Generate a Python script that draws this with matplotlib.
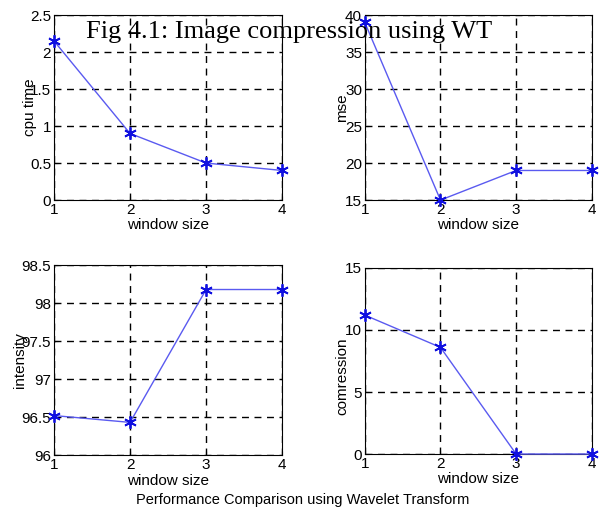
import matplotlib.pyplot as plt

# window sizes and the four measured quantities
window = [1, 2, 3, 4]
cpu_time = [2.15, 0.9, 0.5, 0.4]
mse = [39.0, 15.0, 19.0, 19.0]
intensity = [96.52, 96.43, 98.18, 98.18]
compression = [11.2, 8.6, 0.0, 0.0]

cpu_ticks = [0, 0.5, 1, 1.5, 2, 2.5]
mse_ticks = [15, 20, 25, 30, 35, 40]
int_ticks = [96, 96.5, 97, 97.5, 98, 98.5]
comp_ticks = [0, 5, 10, 15]

plt.rcParams['font.family'] = ['Liberation Sans', 'DejaVu Sans']

fig = plt.figure(figsize=(6.02, 5.13), dpi=100)

# position, values, ticks, ylabel, ylabel coords
panels = [
    ([0.0897, 0.610, 0.379, 0.3606], cpu_time, cpu_ticks, 'cpu time', (-0.105, 0.5)),
    ([0.606, 0.610, 0.377, 0.3606], mse, mse_ticks, 'mse', (-0.10, 0.5)),
    ([0.0897, 0.113, 0.379, 0.370], intensity, int_ticks, 'intensity', (-0.15, 0.5)),
    ([0.606, 0.115, 0.377, 0.3626], compression, comp_ticks, 'comression', (-0.097, 0.42)),
]

for pos, vals, ticks, lab, lc in panels:
    ax = fig.add_axes(pos)
    ax.plot(window, vals, '-', color='#5a5af0', lw=1, marker=(6, 2, 0),
            ms=9, mec='#1010e0', mew=1.3, clip_on=False, zorder=3)
    ax.set_xlim(1, 4)
    ax.set_ylim(ticks[0], ticks[-1])
    ax.set_xticks(window)
    ax.set_xticklabels([str(w) for w in window])
    ax.set_yticks(ticks)
    ax.set_yticklabels(['%g' % t for t in ticks])
    ax.grid(True, ls=(0, (5, 4)), color='black', lw=1)
    ax.tick_params(direction='in', length=3, labelsize=11, pad=2)
    ax.set_xlabel('window size', fontsize=11)
    ax.xaxis.set_label_coords(0.5, -0.135)
    ax.xaxis.label.set_va('center')
    ax.set_ylabel(lab, fontsize=11)
    ax.yaxis.set_label_coords(*lc)
    ax.yaxis.label.set_va('center')
    for s in ax.spines.values():
        s.set_linewidth(0.8)

fig.text(0.48, 0.938, 'Fig 4.1: Image compression using WT', ha='center', va='center',
         fontsize=19, family=['Liberation Serif', 'DejaVu Serif'])
fig.text(0.502, 0.025, 'Performance Comparison using Wavelet Transform', ha='center',
         va='center', fontsize=10.5)

fig.savefig('out.png', dpi=100)
